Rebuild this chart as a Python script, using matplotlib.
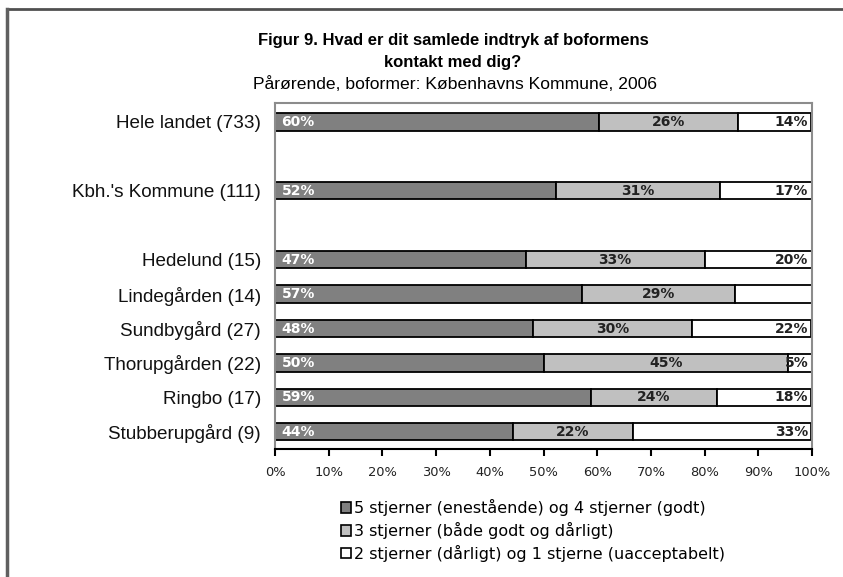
import matplotlib
matplotlib.use("Agg")
import matplotlib.pyplot as plt
from matplotlib.lines import Line2D
from matplotlib.patches import Patch

categories = ["Hele landet (733)", "Kbh.'s Kommune (111)", "Hedelund (15)", "Lindegården (14)",
              "Sundbygård (27)", "Thorupgården (22)", "Ringbo (17)", "Stubberupgård (9)"]
positions = [0, 2, 4, 5, 6, 7, 8, 9]
good = [60.4, 52.3, 46.7, 57.1, 48.1, 50.0, 58.8, 44.4]
mid = [25.9, 30.6, 33.3, 28.6, 29.6, 45.5, 23.5, 22.2]
bad = [13.6, 17.1, 20.0, 14.3, 22.2, 4.5, 17.6, 33.3]
good_lbl = ["60%", "52%", "47%", "57%", "48%", "50%", "59%", "44%"]
mid_lbl = ["26%", "31%", "33%", "29%", "30%", "45%", "24%", "22%"]
bad_lbl = ["14%", "17%", "20%", "", "22%", "5%", "18%", "33%"]
legend_labels = ["5 stjerner (enestående) og 4 stjerner (godt)",
                 "3 stjerner (både godt og dårligt)",
                 "2 stjerner (dårligt) og 1 stjerne (uacceptabelt)"]
xticks = list(range(0, 101, 10))

c_dark, c_light, c_white = "#808080", "#c0c0c0", "#ffffff"
narrow = ["Liberation Sans Narrow", "Liberation Sans", "DejaVu Sans"]

fig = plt.figure(figsize=(8.43, 5.77), dpi=100)
ax = fig.add_axes([275 / 843, 1 - 449 / 577, 537 / 843, 346 / 577])

h = 0.5
kw = dict(height=h, edgecolor="black", linewidth=1.3)
ax.barh(positions, good, color=c_dark, **kw)
ax.barh(positions, mid, left=good, color=c_light, **kw)
left3 = [g + m for g, m in zip(good, mid)]
ax.barh(positions, bad, left=left3, color=c_white, **kw)

lbl_kw = dict(fontweight="bold", fontsize=10, va="center", family="DejaVu Sans")
for i, y in enumerate(positions):
    ax.text(1.2, y, good_lbl[i], color="white", ha="left", **lbl_kw)
    ax.text(good[i] + mid[i] / 2, y, mid_lbl[i], color="#222222", ha="center", **lbl_kw)
    if bad_lbl[i]:
        ax.text(99.3, y, bad_lbl[i], color="#222222", ha="right", **lbl_kw)

ax.set_xlim(0, 100)
ax.set_ylim(9.5, -0.55)
ax.set_yticks(positions)
ax.set_yticklabels(categories, fontsize=13.6, family="Liberation Sans", color="#111111")
ax.tick_params(axis="y", length=0, pad=10)
ax.set_xticks(xticks)
ax.set_xticklabels([f"{t}%" for t in xticks], fontsize=9.4, family="DejaVu Sans", color="#222222")
ax.tick_params(axis="x", direction="out", length=5, width=1.5, pad=7)

for s in ["top", "left", "right"]:
    ax.spines[s].set_color("#8c8c8c")
    ax.spines[s].set_linewidth(1.5)
ax.spines["bottom"].set_color("black")
ax.spines["bottom"].set_linewidth(1.5)

fig.text(453 / 843, 1 - 40 / 577, "Figur 9. Hvad er dit samlede indtryk af boformens",
         ha="center", va="center", fontsize=12, fontweight="bold", family=narrow)
fig.text(453 / 843, 1 - 62 / 577, "kontakt med dig?",
         ha="center", va="center", fontsize=12, fontweight="bold", family=narrow)
fig.text(455 / 843, 1 - 84 / 577, "Pårørende, boformer: Københavns Kommune, 2006",
         ha="center", va="center", fontsize=12.6, family=narrow)

handles = [Patch(facecolor=c, edgecolor="black", linewidth=1.2) for c in (c_dark, c_light, c_white)]
fig.legend(handles, legend_labels, loc="upper left", bbox_to_anchor=(341 / 843, 1 - 499 / 577),
           frameon=False, prop={"family": "DejaVu Sans", "size": 11.5},
           handlelength=0.65, handleheight=0.65, handletextpad=0.15, labelspacing=0.36,
           borderaxespad=0, borderpad=0)

# outer frame (top and left edges of the screenshot)
fig.add_artist(Line2D([7 / 843, 1], [1 - 9 / 577, 1 - 9 / 577], color="#505050", lw=2,
                      transform=fig.transFigure))
fig.add_artist(Line2D([7 / 843, 7 / 843], [0, 1 - 9 / 577], color="#606060", lw=2.5,
                      transform=fig.transFigure))

fig.savefig("out.png", dpi=100)
